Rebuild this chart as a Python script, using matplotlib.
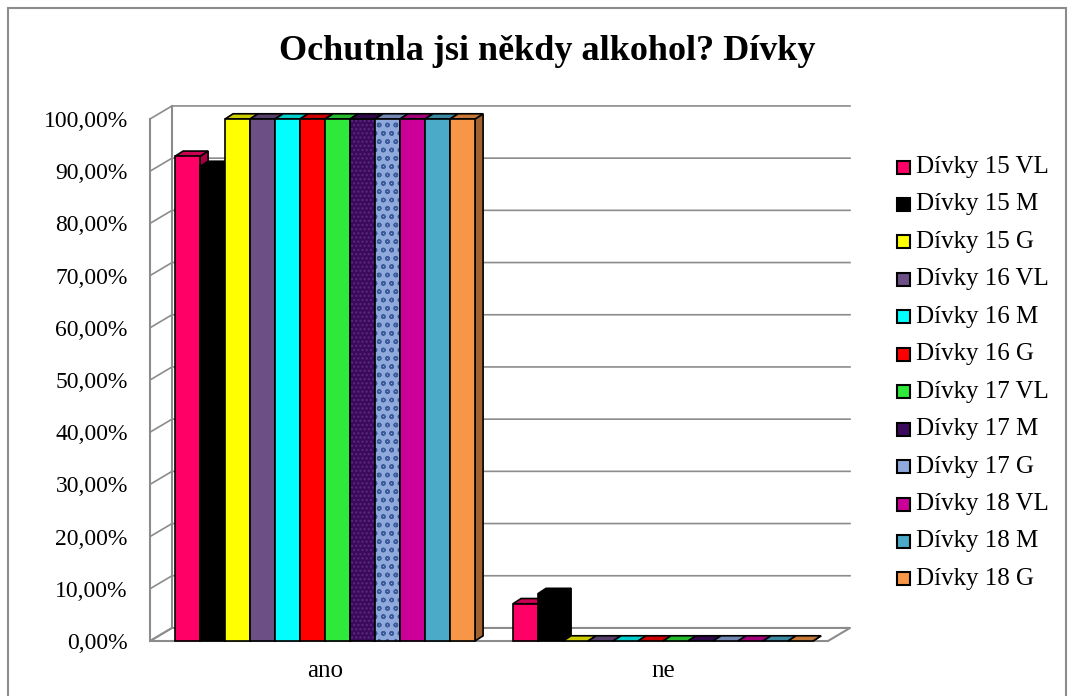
import numpy as np
import matplotlib.pyplot as plt
from matplotlib.patches import Polygon, Rectangle

categories = ["ano", "ne"]
series = ["Dívky 15 VL", "Dívky 15 M", "Dívky 15 G", "Dívky 16 VL", "Dívky 16 M", "Dívky 16 G",
          "Dívky 17 VL", "Dívky 17 M", "Dívky 17 G", "Dívky 18 VL", "Dívky 18 M", "Dívky 18 G"]
ano = [92.86, 90.91, 100, 100, 100, 100, 100, 100, 100, 100, 100, 100]
ne = [7.14, 9.09, 0, 0, 0, 0, 0, 0, 0, 0, 0, 0]
colors = ["#ff0066", "#000000", "#ffff00", "#6b4f85", "#00ffff", "#ff0000",
          "#2ee83a", "#3c0a5c", "#8fa9dd", "#cc0099", "#4aaac8", "#f79646"]
hatches = {7: ("....", "#5a2a82"), 8: ("oo", "#3a5a9a")}
yticks = np.arange(0, 101, 10)

plt.rcParams["font.family"] = ["Liberation Serif", "DejaVu Serif"]

W, H = 1073, 696
fig = plt.figure(figsize=(W / 100, H / 100), dpi=100)
fig.patch.set_facecolor("white")
ax = fig.add_axes([150 / W, (H - 641) / H, 700 / W, 522 / H])
ax.set_xlim(-0.518, 1.553)
ax.set_ylim(0, 100)
for s in ax.spines.values():
    s.set_visible(False)

bw = 25 / 338        # bar width
DX, DY = 22 / 338, 2.5   # wall depth
bdx, bdy = 8 / 338, 1.0  # bar depth
x0, x1 = ax.get_xlim()
grid_c = "#8c8c8c"

# floor
ax.add_patch(Polygon([(x0, 0), (x1 - DX, 0), (x1, DY), (x0 + DX, DY)], closed=True,
                     facecolor="white", edgecolor=grid_c, lw=1.5, clip_on=False, zorder=1))
# walls / gridlines
for t in yticks:
    ax.plot([x0, x0 + DX, x1], [t, t + DY, t + DY], color=grid_c, lw=1.2, clip_on=False, zorder=1)
ax.plot([x0, x0], [0, 100], color=grid_c, lw=1.5, clip_on=False, zorder=1)
ax.plot([x0 + DX, x0 + DX], [DY, 100 + DY], color=grid_c, lw=1.5, clip_on=False, zorder=1)


def shade(c, f):
    r = np.array(plt.matplotlib.colors.to_rgb(c))
    return tuple(r * f)


def bar3d(x, v, c, i, z):
    side = [(x + bw, 0), (x + bw + bdx, bdy), (x + bw + bdx, v + bdy), (x + bw, v)]
    top = [(x, v), (x + bdx, v + bdy), (x + bw + bdx, v + bdy), (x + bw, v)]
    ax.add_patch(Polygon(side, closed=True, facecolor=shade(c, 0.65), edgecolor="black",
                         lw=1.2, clip_on=False, zorder=z))
    ax.add_patch(Polygon(top, closed=True, facecolor=shade(c, 0.8), edgecolor="black",
                         lw=1.2, clip_on=False, zorder=z))
    if v > 0:
        ax.add_patch(Rectangle((x, 0), bw, v, facecolor=c, edgecolor="none", clip_on=False, zorder=z))
        if i in hatches:
            h, hc = hatches[i]
            ax.add_patch(Rectangle((x, 0), bw, v, facecolor="none", edgecolor=hc, hatch=h,
                                   lw=0, clip_on=False, zorder=z))
        ax.add_patch(Rectangle((x, 0), bw, v, facecolor="none", edgecolor="black", lw=1.2,
                               clip_on=False, zorder=z))


z = 3
for ci, vals in enumerate([ano, ne]):
    for i, v in enumerate(vals):
        bar3d(ci + (i - 6) * bw, v, colors[i], i, z)
        z += 1

ax.set_yticks(yticks)
ax.set_yticklabels([f"{t:.2f}%".replace(".", ",") for t in yticks], fontsize=17)
ax.set_xticks(range(len(categories)))
ax.set_xticklabels(categories, fontsize=18)
ax.tick_params(axis="y", length=0, pad=16)
ax.tick_params(axis="x", length=0, pad=14)

fig.text(547 / W, 1 - 52 / H, "Ochutnla jsi někdy alkohol? Dívky", ha="center", va="center",
         fontsize=26, fontweight="bold")

# legend
for i, name in enumerate(series):
    yc = 167 + i * 37.45
    p = Rectangle((897 / W, 1 - (yc + 6.5) / H), 13 / W, 13 / H, transform=fig.transFigure,
                  facecolor=colors[i], edgecolor="black", lw=1.5)
    fig.add_artist(p)
    fig.text(916 / W, 1 - yc / H, name, ha="left", va="center", fontsize=18)

# outer frame
fig.add_artist(Rectangle((8 / W, -0.05), 1058 / W, 1.05 - 8 / H, transform=fig.transFigure,
                         facecolor="none", edgecolor="#8c8c8c", lw=1.5))

fig.savefig("out.png", dpi=100)
